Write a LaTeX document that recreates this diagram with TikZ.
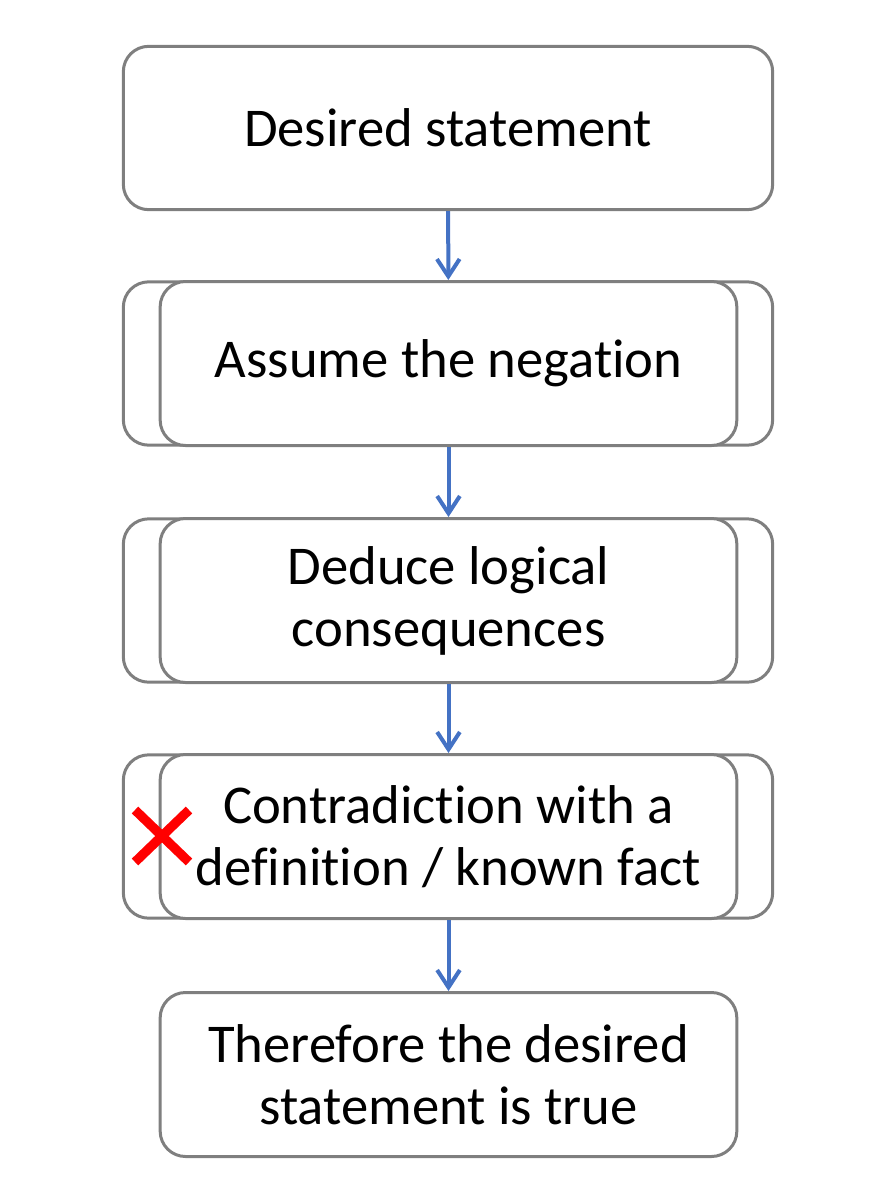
\documentclass[tikz,border=0pt]{standalone}
\usepackage{fontspec}
\setmainfont[Ligatures=NoCommon]{Carlito}
\usetikzlibrary{arrows.meta}
\definecolor{flowblue}{HTML}{4472C4}
\definecolor{boxgray}{HTML}{7F7F7F}

\begin{document}
\begin{tikzpicture}[x=0.75pt, y=-0.75pt,
	>={Straight Barb[length=13pt,width=17pt]},
	stepbox/.style={draw=boxgray, line width=2.25pt, fill=white,
		rounded corners=19pt, align=center, inner sep=0pt,
		font=\fontsize{41}{46.5}\selectfont},
	wide/.style={stepbox, minimum width=487pt, minimum height=122.5pt},
	narrow/.style={stepbox, minimum width=432.5pt, minimum height=123pt},
	flow/.style={->, draw=flowblue, line width=3pt}]
	
	\useasboundingbox (0,0) rectangle (896,1200);
	
	% Boxes
	\node[wide] (desired) at (448,128) {Desired statement};
	
	\node[wide] (negback) at (448,363.5) {};
	\node[narrow] (negation) at (448.5,363.5) {Assume the negation};
	
	\node[wide] (dedback) at (448,600.5) {};
	\node[narrow] (deduce) at (448.5,600.5) {Deduce logical\\consequences};
	
	\node[wide] (conback) at (448,836.5) {};
	\node[narrow] (contra) at (448.5,836.5) {Contradiction with a\\definition / known fact};
	
	\node[narrow] (therefore) at (448.5,1074.5) {Therefore the desired\\statement is true};
	
	% Red cross
	\draw[red, line width=7pt] (135,810) -- (189,862);
	\draw[red, line width=7pt] (135,862) -- (189,810);
	
	% Arrows
	\draw[flow] (desired) -- (negation);
	\draw[flow] (negation) -- (deduce);
	\draw[flow] (deduce) -- (contra);
	\draw[flow] (contra) -- (therefore);
\end{tikzpicture}
\end{document}
